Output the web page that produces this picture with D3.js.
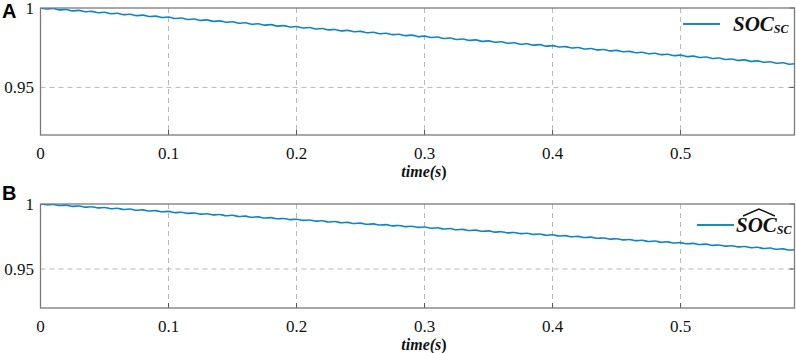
<!DOCTYPE html>
<html lang="en">
<head>
<meta charset="UTF-8">
<title>SOC of supercapacitor</title>
<script src="https://d3js.org/d3.v7.min.js"></script>
<style>
    body { margin: 0; background: #fff; }
    .grid { stroke: #b8b8b8; stroke-width: 1px; stroke-dasharray: 5,4; }
    .frame { fill: none; stroke: #7a7a7a; stroke-width: 1.3px; }
    .soc-line { fill: none; stroke: #0b84cc; stroke-width: 1.6px; }
</style>
</head>
<body>
<script>
    // time axis: samples every 5 ms from 0 to 0.59 s
    const timeStep = 0.005;
    const xTicks = [0, 0.1, 0.2, 0.3, 0.4, 0.5];
    const xTickLabels = ["0", "0.1", "0.2", "0.3", "0.4", "0.5"];
    const yTicks = [0.95, 1];
    const yTickLabels = ["0.95", "1"];

    // SOC of the supercapacitor (ripple peaks/troughs)
    const socSc = [
        1.0000, 0.9994, 0.9997, 0.9988, 0.9991, 0.9982, 0.9985, 0.9976, 0.9979, 0.9970,
        0.9973, 0.9964, 0.9967, 0.9958, 0.9961, 0.9952, 0.9955, 0.9946, 0.9949, 0.9940,
        0.9943, 0.9934, 0.9937, 0.9928, 0.9931, 0.9922, 0.9925, 0.9916, 0.9919, 0.9910,
        0.9913, 0.9904, 0.9907, 0.9898, 0.9901, 0.9892, 0.9895, 0.9886, 0.9889, 0.9880,
        0.9883, 0.9874, 0.9877, 0.9868, 0.9871, 0.9862, 0.9865, 0.9856, 0.9859, 0.9850,
        0.9853, 0.9844, 0.9847, 0.9838, 0.9841, 0.9832, 0.9835, 0.9826, 0.9829, 0.9820,
        0.9823, 0.9814, 0.9817, 0.9808, 0.9811, 0.9802, 0.9805, 0.9796, 0.9799, 0.9790,
        0.9793, 0.9784, 0.9787, 0.9778, 0.9781, 0.9772, 0.9775, 0.9766, 0.9769, 0.9760,
        0.9763, 0.9754, 0.9757, 0.9748, 0.9751, 0.9742, 0.9745, 0.9736, 0.9739, 0.9730,
        0.9733, 0.9724, 0.9727, 0.9718, 0.9721, 0.9712, 0.9715, 0.9706, 0.9709, 0.9700,
        0.9703, 0.9694, 0.9697, 0.9688, 0.9691, 0.9682, 0.9685, 0.9676, 0.9679, 0.9670,
        0.9673, 0.9664, 0.9667, 0.9658, 0.9661, 0.9652, 0.9655, 0.9646, 0.9649
    ];
    const socScEst = [
        1.0000, 0.9994, 0.9997, 0.9988, 0.9991, 0.9982, 0.9985, 0.9976, 0.9979, 0.9970,
        0.9973, 0.9964, 0.9967, 0.9958, 0.9961, 0.9952, 0.9955, 0.9946, 0.9949, 0.9940,
        0.9943, 0.9934, 0.9937, 0.9928, 0.9931, 0.9922, 0.9925, 0.9916, 0.9919, 0.9910,
        0.9913, 0.9904, 0.9907, 0.9898, 0.9901, 0.9892, 0.9895, 0.9886, 0.9889, 0.9880,
        0.9883, 0.9874, 0.9877, 0.9868, 0.9871, 0.9862, 0.9865, 0.9856, 0.9859, 0.9850,
        0.9853, 0.9844, 0.9847, 0.9838, 0.9841, 0.9832, 0.9835, 0.9826, 0.9829, 0.9820,
        0.9823, 0.9814, 0.9817, 0.9808, 0.9811, 0.9802, 0.9805, 0.9796, 0.9799, 0.9790,
        0.9793, 0.9784, 0.9787, 0.9778, 0.9781, 0.9772, 0.9775, 0.9766, 0.9769, 0.9760,
        0.9763, 0.9754, 0.9757, 0.9748, 0.9751, 0.9742, 0.9745, 0.9736, 0.9739, 0.9730,
        0.9733, 0.9724, 0.9727, 0.9718, 0.9721, 0.9712, 0.9715, 0.9706, 0.9709, 0.9700,
        0.9703, 0.9694, 0.9697, 0.9688, 0.9691, 0.9682, 0.9685, 0.9676, 0.9679, 0.9670,
        0.9673, 0.9664, 0.9667, 0.9658, 0.9661, 0.9652, 0.9655, 0.9646, 0.9649
    ];

    const serif = "Liberation Serif";
    const width = 796, height = 353;
    const svg = d3.select("body").append("svg")
        .attr("width", width)
        .attr("height", height);

    const x = d3.scaleLinear().domain([0, 0.589]).range([40.5, 794.5]);

    const panels = [
        {id: "a", label: "A", top: 8, bottom: 135, values: socSc, hat: false},
        {id: "b", label: "B", top: 204, bottom: 308, values: socScEst, hat: true}
    ];

    panels.forEach(function (p) {
        const y = d3.scaleLinear().domain([0.92, 1]).range([p.bottom, p.top]);
        const g = svg.append("g");
        const x0 = x.range()[0], x1 = x.range()[1];

        g.append("clipPath").attr("id", "clip-" + p.id)
            .append("rect")
            .attr("x", x0).attr("y", p.top)
            .attr("width", x1 - x0).attr("height", p.bottom - p.top);

        // grid
        g.selectAll("line.vgrid").data(xTicks.slice(1)).enter().append("line")
            .attr("class", "grid vgrid")
            .attr("x1", d => x(d)).attr("x2", d => x(d))
            .attr("y1", p.top).attr("y2", p.bottom);
        g.selectAll("line.hgrid").data(yTicks.filter(d => d < 1)).enter().append("line")
            .attr("class", "grid hgrid")
            .attr("x1", x0).attr("x2", x1)
            .attr("y1", d => y(d)).attr("y2", d => y(d));

        // inner ticks
        g.selectAll("line.xt").data(xTicks).enter().append("line")
            .attr("x1", d => x(d)).attr("x2", d => x(d))
            .attr("y1", p.bottom).attr("y2", p.bottom - 5)
            .attr("stroke", "#555");
        g.selectAll("line.yt").data(yTicks).enter().append("line")
            .attr("x1", x1).attr("x2", x1 - 5)
            .attr("y1", d => y(d)).attr("y2", d => y(d))
            .attr("stroke", "#555");

        // line
        const line = d3.line()
            .x((d, i) => x(i * timeStep))
            .y(d => y(d))
            .curve(d3.curveMonotoneX);
        g.append("path")
            .datum(p.values)
            .attr("class", "soc-line")
            .attr("clip-path", "url(#clip-" + p.id + ")")
            .attr("d", line);

        // frame
        g.append("rect").attr("class", "frame")
            .attr("x", x0).attr("y", p.top)
            .attr("width", x1 - x0).attr("height", p.bottom - p.top);

        // tick labels
        g.selectAll("text.xl").data(xTicks).enter().append("text")
            .style("font-family", serif).style("font-size", "17px").attr("fill", "#111")
            .attr("x", d => x(d)).attr("y", p.bottom + 24)
            .attr("text-anchor", "middle")
            .text((d, i) => xTickLabels[i]);
        g.selectAll("text.yl").data(yTicks).enter().append("text")
            .style("font-family", serif).style("font-size", "17px").attr("fill", "#111")
            .attr("x", 34).attr("y", d => y(d) + 6)
            .attr("text-anchor", "end")
            .text((d, i) => yTickLabels[i]);

        // axis title
        const t = g.append("text")
            .style("font-family", serif).style("font-size", "16px")
            .style("font-style", "italic").style("font-weight", "bold").attr("fill", "#111")
            .attr("x", 424).attr("y", p.bottom + 42)
            .attr("text-anchor", "middle");
        t.append("tspan").text("time(");
        t.append("tspan").text("s");
        t.append("tspan").text(")").style("font-style", "normal");

        // panel label
        g.append("text")
            .style("font-family", "Liberation Sans")
            .style("font-size", "20px").style("font-weight", "bold").attr("fill", "#000")
            .attr("x", 2).attr("y", p.top + (p.hat ? -4 : 10))
            .text(p.label);

        // legend
        const lx = p.hat ? 697 : 683, ly = p.top + (p.hat ? 21 : 16);
        g.append("line")
            .attr("x1", lx).attr("x2", lx + 37)
            .attr("y1", ly).attr("y2", ly)
            .attr("stroke", "#1590b5").attr("stroke-width", 2);
        const lt = g.append("text")
            .style("font-family", serif).style("font-size", "21px")
            .style("font-style", "italic").style("font-weight", "bold").attr("fill", "#111")
            .attr("x", lx + (p.hat ? 39 : 50)).attr("y", ly + 7);
        const main = lt.append("tspan").text("SOC");
        lt.append("tspan").text("SC").attr("dy", 2).style("font-size", "12px");
        if (p.hat) {
            const bb = main.node().getBBox();
            const cx = bb.x + bb.width / 2 + 2;
            g.append("path")
                .attr("d", `M ${bb.x + 7} ${bb.y + 3} L ${cx} ${bb.y - 4} L ${bb.x + bb.width - 3} ${bb.y + 3}`)
                .attr("fill", "none").attr("stroke", "#111").attr("stroke-width", 1.4);
        }
    });
</script>
</body>
</html>
